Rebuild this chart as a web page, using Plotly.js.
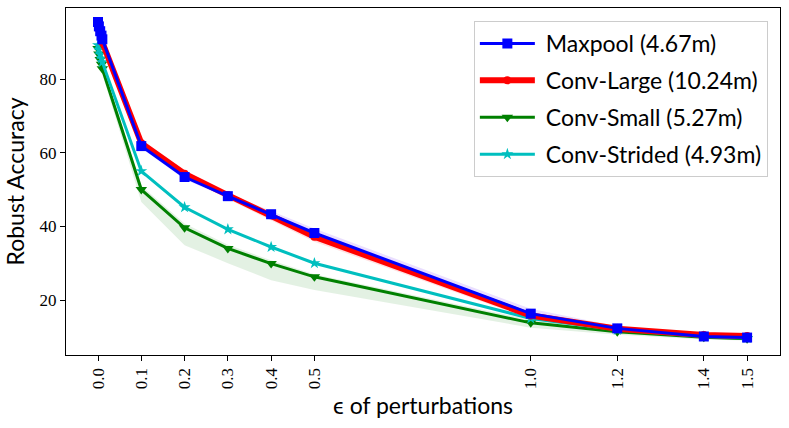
<!DOCTYPE html>
<html><head><meta charset="utf-8">
<script src="https://cdn.plot.ly/plotly-3.0.1.min.js"></script>
<style>body{margin:0;background:#fff}#plot{width:789px;height:428px}</style>
</head><body><div id="plot"></div>
<script>
const eps = [0, 0.002, 0.005, 0.008, 0.01, 0.1, 0.2, 0.3, 0.4, 0.5, 1.0, 1.2, 1.4, 1.5];
const tickVals = [0.0, 0.1, 0.2, 0.3, 0.4, 0.5, 1.0, 1.2, 1.4, 1.5];
const tickText = ["0.0","0.1","0.2","0.3","0.4","0.5","1.0","1.2","1.4","1.5"];
const seriesNames = ["Maxpool (4.67m)", "Conv-Large (10.24m)", "Conv-Small (5.27m)", "Conv-Strided (4.93m)"];

const maxpool      = [95.5, 94.3, 93.0, 91.8, 90.8, 61.8, 53.4, 48.2, 43.3, 38.2, 16.3, 12.3, 10.1, 9.8];
const maxpoolHi    = [95.8, 94.8, 93.5, 92.4, 91.4, 62.6, 54.2, 49.0, 44.3, 39.4, 17.6, 12.9, 10.5, 10.2];
const maxpoolLo    = [95.0, 93.8, 92.5, 91.2, 90.2, 61.2, 52.8, 47.6, 42.6, 37.4, 15.6, 11.8, 9.8, 9.5];

const convLarge    = [94.8, 93.6, 92.3, 91.2, 90.0, 62.6, 54.3, 48.5, 43.0, 37.2, 15.8, 12.2, 10.5, 10.2];
const convLargeHi  = [95.2, 94.0, 92.8, 91.7, 90.5, 63.2, 54.9, 49.0, 43.5, 37.8, 16.4, 12.6, 10.8, 10.5];
const convLargeLo  = [94.3, 93.1, 91.7, 90.6, 89.4, 61.8, 53.4, 47.4, 41.6, 35.8, 14.8, 11.7, 10.1, 9.9];

const convSmall    = [88.3, 86.8, 85.3, 84.0, 82.8, 50.0, 39.6, 34.0, 29.9, 26.3, 13.8, 11.4, 9.9, 9.5];
const convSmallHi  = [89.2, 87.8, 86.4, 85.2, 84.0, 51.0, 40.8, 35.0, 30.8, 27.0, 14.6, 11.9, 10.3, 9.9];
const convSmallLo  = [87.2, 85.6, 84.0, 82.6, 81.3, 46.6, 34.9, 30.0, 25.4, 22.7, 12.5, 10.6, 9.3, 9.0];

const convStrided  = [89.2, 88.0, 86.7, 85.6, 84.6, 55.0, 45.2, 39.2, 34.4, 30.0, 15.0, 11.9, 10.1, 9.7];

const traces = [];
function band(hi, lo, color) {
  traces.push({x: eps, y: lo, mode: 'lines', line: {width: 0}, showlegend: false, hoverinfo: 'skip'});
  traces.push({x: eps, y: hi, mode: 'lines', line: {width: 0}, fill: 'tonexty', fillcolor: color, showlegend: false, hoverinfo: 'skip'});
}
band(convSmallHi, convSmallLo, 'rgba(0,128,0,0.11)');
band(convLargeHi, convLargeLo, 'rgba(255,0,0,0.12)');
band(maxpoolHi, maxpoolLo, 'rgba(90,0,255,0.13)');

const sp = '\u00a0';
traces.push({x: eps, y: convSmall, name: sp + seriesNames[2], mode: 'lines+markers', legendrank: 3, legendgroup: 'c',
  line: {color: 'green', width: 3}, marker: {symbol: 'triangle-down', size: 10, color: 'green'}});
traces.push({x: eps, y: convStrided, name: sp + seriesNames[3], mode: 'lines+markers', legendrank: 4, legendgroup: 'd',
  line: {color: '#00bfbf', width: 3}, marker: {symbol: 'star', size: 9, color: '#00bfbf'}});
traces.push({x: eps, y: convLarge, name: sp + seriesNames[1], mode: 'lines+markers', legendrank: 2, legendgroup: 'b',
  line: {color: 'red', width: 6}, marker: {symbol: 'circle', size: 8, color: 'red'}});
traces.push({x: eps, y: maxpool, name: sp + seriesNames[0], mode: 'lines+markers', legendrank: 1, legendgroup: 'a',
  line: {color: 'blue', width: 3}, marker: {symbol: 'square', size: 10, color: 'blue'}});

const layout = {
  width: 789, height: 428,
  margin: {l: 66, r: 9, t: 8, b: 73},
  paper_bgcolor: '#fff', plot_bgcolor: '#fff',
  showlegend: true,
  legend: {x: 0.983, y: 0.9625, xanchor: 'right', yanchor: 'top',
    traceorder: 'grouped', tracegroupgap: 4, itemwidth: 55,
    bgcolor: 'rgba(255,255,255,0.8)', bordercolor: '#cccccc', borderwidth: 1,
    font: {family: 'Lato, "DejaVu Sans", sans-serif', size: 23, color: '#000'}},
  xaxis: {range: [-0.074, 1.576], tickvals: tickVals, ticktext: tickText, tickangle: -90,
    ticks: 'outside', ticklen: 5, tickcolor: '#000', showgrid: false, zeroline: false,
    showline: true, linecolor: '#000', linewidth: 1.2, mirror: true,
    tickfont: {family: '"Liberation Serif", "DejaVu Serif", serif', size: 17, color: '#000'},
    title: {text: 'ϵ of perturbations', standoff: 9,
      font: {family: 'Lato, "DejaVu Sans", sans-serif', size: 23, color: '#000'}}},
  yaxis: {range: [5.07, 99.3], tickvals: [20, 40, 60, 80], ticktext: ['20','40','60','80'],
    ticks: 'outside', ticklen: 5, tickcolor: '#000', showgrid: false, zeroline: false,
    showline: true, linecolor: '#000', linewidth: 1.2, mirror: true,
    tickfont: {family: '"Liberation Serif", "DejaVu Serif", serif', size: 17, color: '#000'},
    title: {text: 'Robust Accuracy', standoff: 8,
      font: {family: 'Lato, "DejaVu Sans", sans-serif', size: 23, color: '#000'}}}
};
Plotly.newPlot('plot', traces, layout, {staticPlot: true, displayModeBar: false});
</script></body></html>
